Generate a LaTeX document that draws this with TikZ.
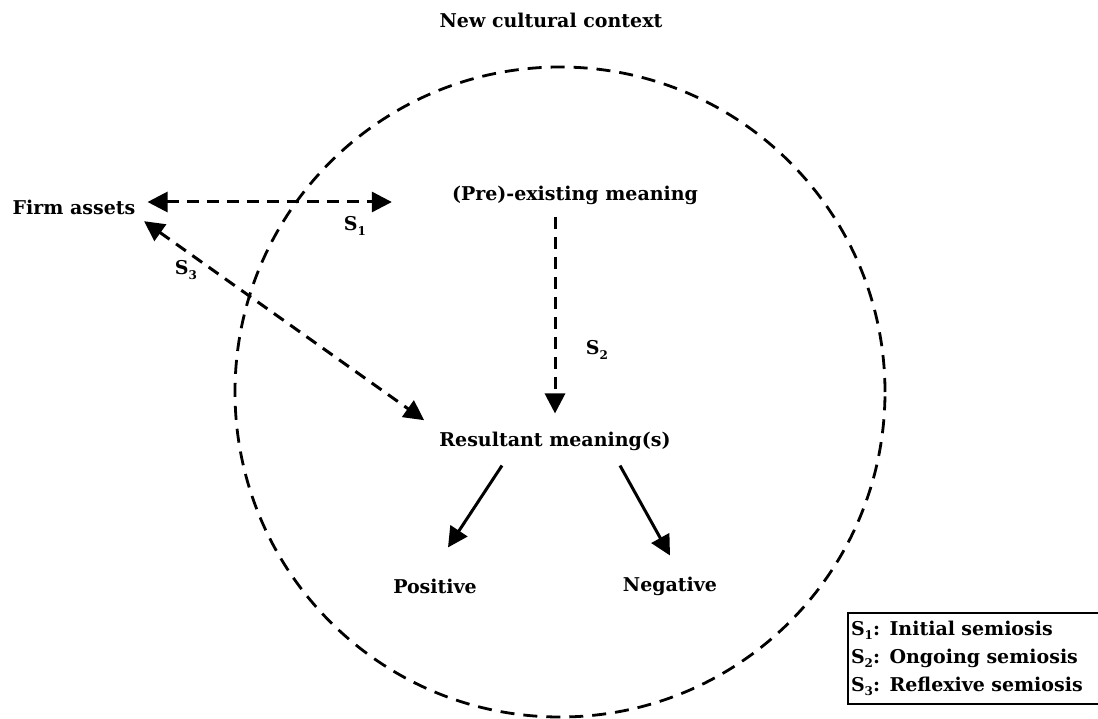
\documentclass[tikz,border=0pt]{standalone}
\usepackage{fontspec}
\setmainfont{DejaVu Serif}
\usetikzlibrary{arrows.meta,positioning}
\newcommand{\Sx}[1]{S\raisebox{-0.45ex}{\fontsize{12}{12}\selectfont #1}}
\tikzset{
  txt/.style={font=\bfseries\fontsize{19}{22}\selectfont,inner sep=2pt},
  ring/.style={circle,draw,line width=2.8pt,dash pattern=on 14pt off 9pt,minimum size=650pt,inner sep=0pt},
  dsh/.style={line width=3pt,dash pattern=on 12pt off 8pt},
  tip/.style={-{Triangle[length=20pt,width=20pt]}},
  dtip/.style={{Triangle[length=20pt,width=20pt]}-{Triangle[length=20pt,width=20pt]}},
  legend/.style={draw,line width=2pt,anchor=north west,align=left,text width=250pt,
                 inner xsep=3pt,inner ysep=8pt,font=\bfseries\fontsize{19}{28}\selectfont}
}
\begin{document}
\begin{tikzpicture}[x=1pt,y=-1pt]
  \useasboundingbox (0,0) rectangle (1098,719);
  \node[ring] (ring) at (560,392) {};
  \node[txt] (ctx) at (551,20) {New cultural context};
  \node[txt] (firm) at (74,207) {Firm assets};
  \node[txt] (pre) at (575,195) {(Pre)-existing meaning};
  \node[txt] (res) at (555,441) {Resultant meaning(s)};
  \node[txt] (pos) at (435,586) {Positive};
  \node[txt] (neg) at (670,586) {Negative};
  % semiosis links
  \draw[dsh,dtip,shorten <=10pt,shorten >=58pt] (firm.east |- 0,202) -- (pre.west |- 0,202);
  \draw[dsh,dtip,shorten <=8pt,shorten >=16pt] (firm.south east) -- (res.north west);
  \draw[dsh,tip,shorten <=10pt,shorten >=16pt] (pre.south -| res.north) -- (res.north);
  \node[txt] (s1) at (355,226) {\Sx{1}};
  \node[txt] (s2) at (597,350) {\Sx{2}};
  \node[txt] (s3) at (186,270) {\Sx{3}};
  % outcomes
  \draw[line width=3pt,tip] ([xshift=-53pt,yshift=-13pt]res.south) -- ([xshift=13pt,yshift=29pt]pos.north);
  \draw[line width=3pt,tip] ([xshift=65pt,yshift=-13pt]res.south) -- ([xshift=0pt,yshift=19pt]neg.north);
  \node[legend] (key) at (847,612) {\Sx{1}: Initial semiosis\\\Sx{2}: Ongoing semiosis\\\Sx{3}: Reflexive semiosis};
\end{tikzpicture}
\end{document}
